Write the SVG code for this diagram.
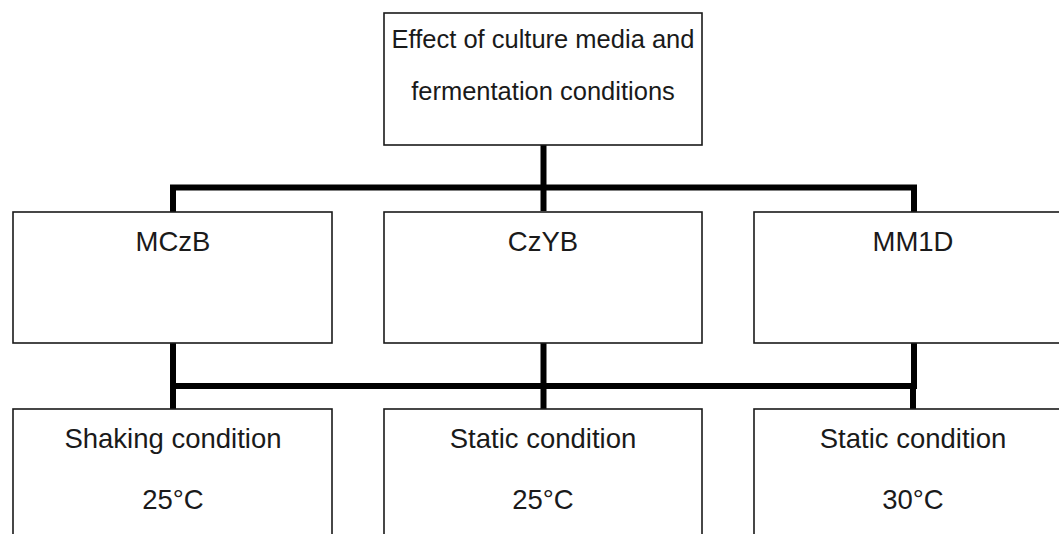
<svg xmlns="http://www.w3.org/2000/svg" width="1059" height="534" viewBox="0 0 1059 534">
  <style>
    .box { fill: #ffffff; stroke: #1a1a1a; stroke-width: 1.6; }
    .lbl { font-family: "Liberation Sans", Arial, sans-serif; font-size: 27.5px; fill: #1a1a1a; text-anchor: middle; }
    .lbl-top { font-size: 25.5px; }
    .wire { fill: none; stroke: #000000; stroke-width: 6; stroke-linejoin: miter; stroke-linecap: butt; }
  </style>
  <rect width="1059" height="534" fill="#ffffff"/>

  <!-- connectors -->
  <g id="connectors">
    <path class="wire" d="M543.5,145 V211"/>
    <path class="wire" d="M173,212 V187.5 H914 V212"/>
    <path class="wire" d="M173,343 V409"/>
    <path class="wire" d="M543.5,343 V409"/>
    <path class="wire" d="M914,341 V383"/>
    <path class="wire" d="M913,383 V409"/>
    <path class="wire" d="M170,386 H917"/>
  </g>

  <!-- root -->
  <g id="node-root">
    <rect class="box" x="384" y="13" width="318" height="132"/>
    <text class="lbl lbl-top" x="543" y="48">Effect of culture media and</text>
    <text class="lbl lbl-top" x="543" y="100">fermentation conditions</text>
  </g>

  <!-- culture media -->
  <g id="node-mczb">
    <rect class="box" x="13" y="212" width="319" height="131"/>
    <text class="lbl" x="173" y="251">MCzB</text>
  </g>
  <g id="node-czyb">
    <rect class="box" x="384" y="212" width="318" height="131"/>
    <text class="lbl" x="543" y="251">CzYB</text>
  </g>
  <g id="node-mm1d">
    <rect class="box" x="754" y="212" width="318" height="131"/>
    <text class="lbl" x="913" y="251">MM1D</text>
  </g>

  <!-- fermentation conditions -->
  <g id="node-shaking-25">
    <rect class="box" x="13" y="409" width="319" height="140"/>
    <text class="lbl" x="173" y="448">Shaking condition</text>
    <text class="lbl" x="173" y="509">25°C</text>
  </g>
  <g id="node-static-25">
    <rect class="box" x="384" y="409" width="318" height="140"/>
    <text class="lbl" x="543" y="448">Static condition</text>
    <text class="lbl" x="543" y="509">25°C</text>
  </g>
  <g id="node-static-30">
    <rect class="box" x="754" y="409" width="318" height="140"/>
    <text class="lbl" x="913" y="448">Static condition</text>
    <text class="lbl" x="913" y="509">30°C</text>
  </g>
</svg>
